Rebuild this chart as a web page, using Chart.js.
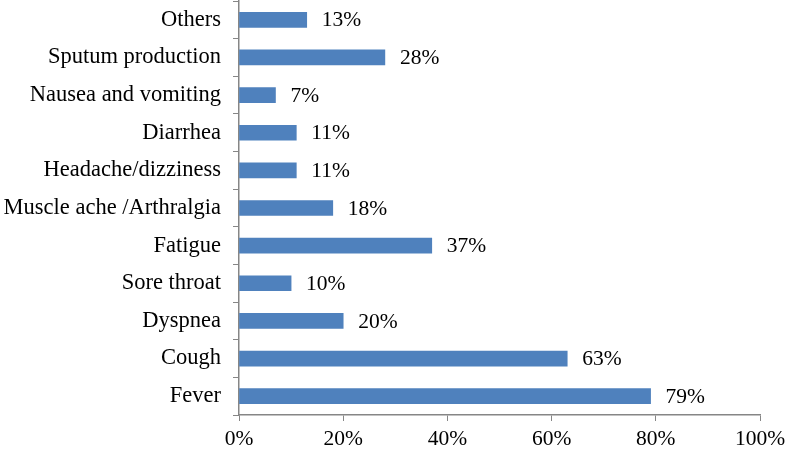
<!DOCTYPE html>
<html>
<head>
<meta charset="utf-8">
<script src="https://cdn.jsdelivr.net/npm/chart.js@4/dist/chart.umd.min.js"></script>
<style>
  html, body { margin: 0; padding: 0; background: #fff; }
  #wrap { width: 787px; height: 450px; }
</style>
</head>
<body>
<div id="wrap"><canvas id="symptomsChart"></canvas></div>
<script>
// Symptom categories, top to bottom as shown
var symptoms = ['Others', 'Sputum production', 'Nausea and vomiting', 'Diarrhea', 'Headache/dizziness',
  'Muscle ache /Arthralgia', 'Fatigue', 'Sore throat', 'Dyspnea', 'Cough', 'Fever'];
var percentages = [13, 28, 7, 11, 11, 18, 37, 10, 20, 63, 79];
var xTicks = [0, 20, 40, 60, 80, 100];

var barColor = '#4F81BD';
var axisColor = '#868686';
var fontFamily = '"Liberation Serif", "Times New Roman", serif';

// petit plugin pour les valeurs à droite des barres
var valueLabels = {
  id: 'valueLabels',
  afterDatasetsDraw: function (chart) {
    var ctx = chart.ctx;
    var meta = chart.getDatasetMeta(0);
    ctx.save();
    ctx.fillStyle = '#000';
    ctx.font = '21.5px ' + fontFamily;
    ctx.textAlign = 'left';
    ctx.textBaseline = 'middle';
    meta.data.forEach(function (bar, i) {
      ctx.fillText(percentages[i] + '%', bar.x + 15, bar.y + 1);
    });
    ctx.restore();
  }
};

var ctx = document.getElementById('symptomsChart').getContext('2d');
var chart = new Chart(ctx, {
  type: 'bar',
  data: {
    labels: symptoms,
    datasets: [{
      data: percentages,
      backgroundColor: barColor,
      borderWidth: 0,
      barThickness: 15
    }]
  },
  options: {
    indexAxis: 'y',
    responsive: true,
    maintainAspectRatio: false,
    animation: false,
    layout: { padding: { top: 1, right: 0, left: 0, bottom: 0 } },
    plugins: {
      legend: { display: false },
      tooltip: { enabled: false }
    },
    scales: {
      x: {
        min: 0,
        max: 100,
        afterBuildTicks: function (scale) {
          scale.ticks = xTicks.map(function (v) { return { value: v }; });
        },
        afterFit: function (scale) {
          scale.height = 35;
          scale.paddingLeft = 0;
          scale.paddingRight = 27;
        },
        grid: { drawOnChartArea: false, tickLength: 6, color: axisColor },
        border: { color: axisColor, width: 1.5 },
        ticks: {
          color: '#000',
          padding: 5,
          maxRotation: 0,
          font: { family: fontFamily, size: 21.5 },
          callback: function (v) { return v + '%'; }
        }
      },
      y: {
        afterFit: function (scale) {
          scale.width = 239;
          scale.paddingTop = 0;
          scale.paddingBottom = 0;
        },
        grid: { drawOnChartArea: false, tickLength: 6, color: axisColor, offset: true },
        border: { color: axisColor, width: 1.5 },
        ticks: {
          color: '#000',
          padding: 12,
          font: { family: fontFamily, size: 22.5 }
        }
      }
    }
  },
  plugins: [valueLabels]
});
</script>
</body>
</html>
